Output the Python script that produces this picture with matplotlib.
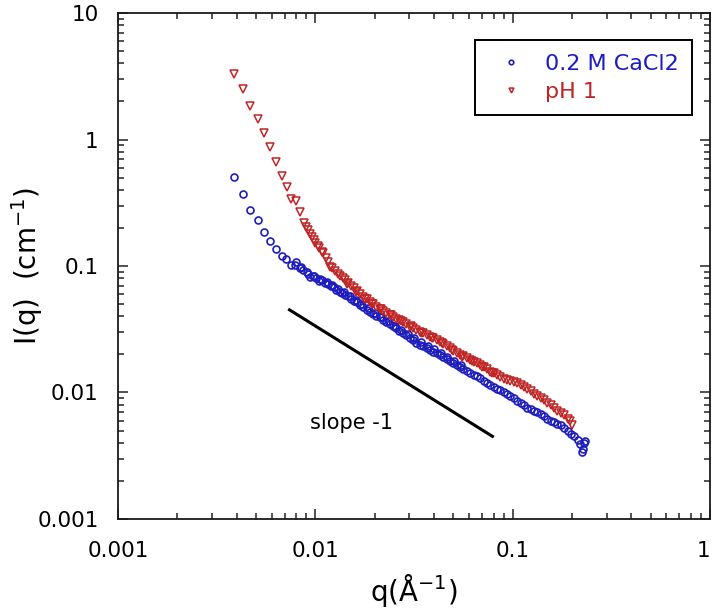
import matplotlib
matplotlib.use("Agg")
import matplotlib.pyplot as plt

# blue: 0.2 M CaCl2  (q in 1/A, I in 1/cm)
q_ca = [0.00386, 0.00429, 0.00468, 0.00512, 0.00551, 0.00589, 0.00632, 0.00675,
        0.00713, 0.00750, 0.00798, 0.00837, 0.00870, 0.00905, 0.00940, 0.00975,
        0.0101, 0.0104, 0.0108, 0.0112, 0.0116, 0.0120, 0.0124, 0.0128, 0.0133,
        0.0137, 0.0142, 0.0147, 0.0152, 0.0157, 0.0163, 0.0169, 0.0175, 0.0182,
        0.0189, 0.0196, 0.0204, 0.0212, 0.0220, 0.0229, 0.0238, 0.0247, 0.0257,
        0.0267, 0.0278, 0.0289, 0.0301, 0.0313, 0.0325, 0.0338, 0.0352, 0.0366,
        0.0381, 0.0396, 0.0412, 0.0428, 0.0445, 0.0463, 0.0482, 0.0501, 0.0521,
        0.0542, 0.0563, 0.0586, 0.0609, 0.0634, 0.0659, 0.0685, 0.0713, 0.0741,
        0.0771, 0.0801, 0.0833, 0.0867, 0.0901, 0.0937, 0.0975, 0.1014, 0.1054,
        0.1096, 0.1140, 0.1186, 0.1233, 0.1282, 0.1334, 0.1387, 0.1442, 0.1500,
        0.1560, 0.1622, 0.1687, 0.1755, 0.1825, 0.1898, 0.1974, 0.2053, 0.2135,
        0.2200, 0.2250, 0.2280, 0.2310, 0.2330,
        # second configuration, overlapping at low q
        0.0079, 0.0085, 0.0092, 0.0099, 0.0106, 0.0114, 0.0122, 0.0131, 0.0140,
        0.0150, 0.0160, 0.0171, 0.0185, 0.0200, 0.0216, 0.0233, 0.0252, 0.0272,
        0.0294, 0.0318, 0.0343, 0.0371, 0.0400, 0.0432, 0.0467, 0.0505, 0.0545]
I_ca = [0.508, 0.371, 0.279, 0.230, 0.187, 0.158, 0.136, 0.119,
        0.113, 0.102, 0.107, 0.096, 0.093, 0.089, 0.082, 0.084,
        0.080, 0.076, 0.077, 0.073, 0.072, 0.069, 0.068, 0.065, 0.062,
        0.061, 0.059, 0.058, 0.055, 0.053, 0.0515, 0.049, 0.047, 0.0452,
        0.043, 0.0418, 0.0402, 0.0392, 0.0375, 0.0362, 0.0348, 0.0335, 0.0324,
        0.0308, 0.0298, 0.0283, 0.0270, 0.0262, 0.0248, 0.0238, 0.0232, 0.0224,
        0.0216, 0.0209, 0.0204, 0.0197, 0.0191, 0.0183, 0.0177, 0.0170, 0.0164,
        0.0159, 0.0153, 0.0147, 0.01425, 0.0138, 0.0134, 0.0130, 0.0124, 0.0119,
        0.01145, 0.0110, 0.0107, 0.01045, 0.0101, 0.0097, 0.0093, 0.0090, 0.0086,
        0.0083, 0.0079, 0.0076, 0.0074, 0.0072, 0.0070, 0.0068, 0.0065, 0.0062,
        0.0060, 0.0058, 0.0056, 0.0055, 0.0052, 0.0050, 0.0047, 0.0045, 0.0042,
        0.0039, 0.0034, 0.0036, 0.0040, 0.0041,
        0.101, 0.099, 0.087, 0.083, 0.079, 0.075, 0.071, 0.066, 0.062,
        0.058, 0.054, 0.050, 0.0465, 0.0425, 0.0395, 0.0365, 0.0338, 0.0312,
        0.0290, 0.0268, 0.0250, 0.0234, 0.0219, 0.0204, 0.0190, 0.0177, 0.0165]

# red: pH 1
q_ph = [0.00386, 0.00429, 0.00468, 0.00512, 0.00551, 0.00589, 0.00632, 0.00675,
        0.00716, 0.00750, 0.00798, 0.00837,
        0.0088, 0.0090, 0.0092, 0.0094, 0.0096, 0.0098, 0.0100, 0.0103, 0.0105,
        0.0108, 0.0110, 0.0113, 0.0116, 0.0119, 0.0122, 0.0126, 0.0130, 0.0134,
        0.0138, 0.0142, 0.0147, 0.0152, 0.0157, 0.0163, 0.0169, 0.0175, 0.0182,
        0.0189, 0.0196, 0.0204, 0.0212, 0.0220, 0.0229, 0.0238, 0.0247, 0.0257,
        0.0267, 0.0278, 0.0289, 0.0301, 0.0313, 0.0325, 0.0338, 0.0352, 0.0366,
        0.0381, 0.0396, 0.0412, 0.0428, 0.0445, 0.0463, 0.0482, 0.0501, 0.0521,
        0.0542, 0.0563, 0.0586, 0.0609, 0.0634, 0.0659, 0.0685, 0.0713, 0.0741,
        0.0771, 0.0801, 0.0833, 0.0867, 0.0901, 0.0937, 0.0975, 0.1014, 0.1054,
        0.1096, 0.1140, 0.1186, 0.1233, 0.1282, 0.1334, 0.1387, 0.1442, 0.1500,
        0.1560, 0.1622, 0.1687, 0.1755, 0.1825, 0.1898, 0.1954, 0.2000,
        # overlapping points
        0.0145, 0.0160, 0.0178, 0.0193, 0.0216, 0.0243, 0.0272, 0.0306, 0.0345,
        0.0390, 0.0440, 0.0495, 0.0555, 0.0620, 0.0700, 0.0790]
I_ph = [3.30, 2.51, 1.85, 1.46, 1.13, 0.867, 0.668, 0.518,
        0.421, 0.339, 0.325, 0.266,
        0.219, 0.205, 0.193, 0.180, 0.170, 0.160, 0.151, 0.143, 0.138,
        0.130, 0.126, 0.116, 0.108, 0.099, 0.096, 0.091, 0.087, 0.084,
        0.080, 0.077, 0.073, 0.070, 0.067, 0.063, 0.060, 0.057, 0.055,
        0.052, 0.050, 0.047, 0.0458, 0.0440, 0.0425, 0.0408, 0.0395, 0.0384,
        0.0375, 0.0360, 0.0345, 0.0332, 0.0322, 0.0312, 0.0303, 0.0293, 0.0284,
        0.0276, 0.0268, 0.0260, 0.0252, 0.0243, 0.0233, 0.0224, 0.0214, 0.0205,
        0.0198, 0.0193, 0.0186, 0.0181, 0.0175, 0.0170, 0.0165, 0.0159, 0.0153,
        0.0146, 0.0142, 0.0137, 0.0133, 0.0129, 0.0126, 0.0123, 0.0121, 0.0118,
        0.0114, 0.0110, 0.0106, 0.0102, 0.0098, 0.0094, 0.0091, 0.0087, 0.0083,
        0.0079, 0.0076, 0.0072, 0.0069, 0.0066, 0.0062, 0.0059, 0.0055,
        0.072, 0.062, 0.055, 0.050, 0.0455, 0.0412, 0.0370, 0.0335, 0.0298,
        0.0270, 0.0245, 0.0215, 0.0192, 0.0176, 0.0160, 0.0143]

# guide line, slope -1
q_guide = [0.0074, 0.079]
I_guide = [0.045, 0.0045]

blue = '#1c1cc0'
red = '#c02424'

fig = plt.figure(figsize=(7.15, 6.11), dpi=100)
ax = fig.add_axes([0.165, 0.1506, 0.828, 0.8281])

ax.plot(q_ca, I_ca, 'o', ls='none', ms=5.0, mfc='none', mec=blue, mew=1.2,
        label='0.2 M CaCl2')
ax.plot(q_ph, I_ph, 'v', ls='none', ms=5.4, mfc='none', mec=red, mew=1.1,
        label='pH 1')
ax.plot(q_guide, I_guide, '-', color='black', lw=2.2)
ax.text(0.0094, 0.00574, 'slope -1', fontsize=15, va='center', ha='left')

ax.set_xscale('log')
ax.set_yscale('log')
ax.set_xlim(0.001, 1)
ax.set_ylim(0.001, 10)
ax.set_xticks([0.001, 0.01, 0.1, 1])
xlabels = ax.set_xticklabels(['0.001', '0.01', '0.1', '1'])
xlabels[-1].set_horizontalalignment('right')
ax.set_yticks([0.001, 0.01, 0.1, 1, 10])
ax.set_yticklabels(['0.001', '0.01', '0.1', '1', '10'])

ax.tick_params(which='both', direction='in', top=True, right=True,
               labelsize=15.5, width=1.1, color='#222222')
ax.tick_params(which='major', length=7)
ax.tick_params(which='minor', length=4)
ax.tick_params(axis='x', which='major', pad=16)
ax.tick_params(axis='y', which='major', pad=14)
for s in ax.spines.values():
    s.set_linewidth(1.3)
    s.set_color('#1a1a1a')

ax.set_xlabel(r'q(Å$^{\mathregular{-1}}$)', fontsize=20, labelpad=8)
ax.set_ylabel(r'I(q)  (cm$^{\mathregular{-1}}$)', fontsize=20, labelpad=-6)

leg = ax.legend(loc='upper right', bbox_to_anchor=(0.970, 0.947),
                borderaxespad=0, fontsize=16, markerscale=0.65,
                handlelength=2.0, handletextpad=0.52, borderpad=0.62,
                labelspacing=0.36, fancybox=False, framealpha=1)
leg.get_frame().set_edgecolor('black')
leg.get_frame().set_linewidth(1.4)
leg.get_texts()[0].set_color(blue)
leg.get_texts()[1].set_color(red)

fig.savefig('out.png', dpi=100)
